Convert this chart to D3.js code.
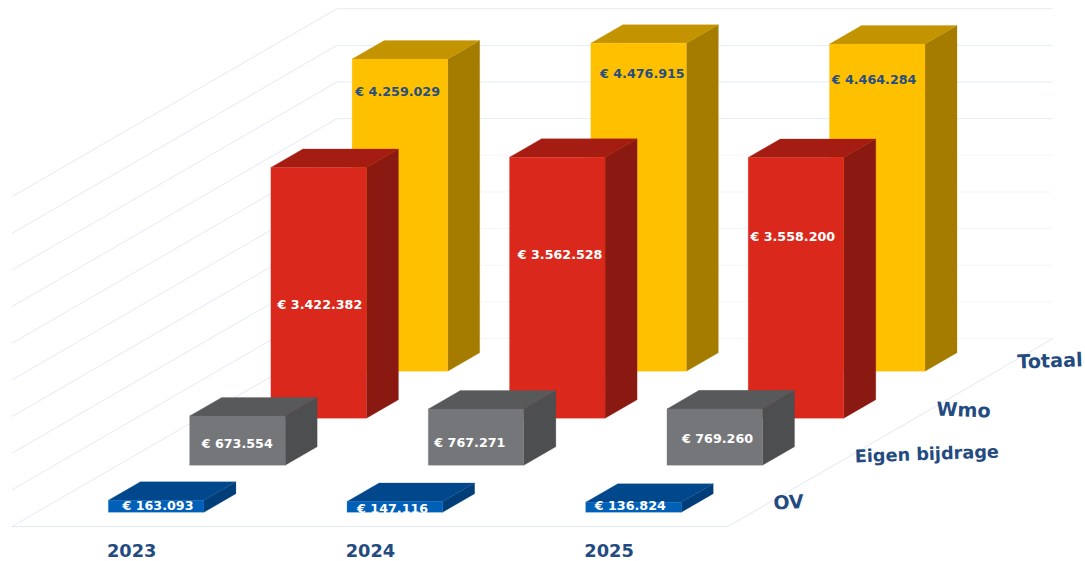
<!DOCTYPE html>
<html><head><meta charset="utf-8">
<script src="https://cdnjs.cloudflare.com/ajax/libs/d3/7.8.5/d3.min.js"></script>
<style>html,body{margin:0;padding:0;background:#fff;overflow:hidden}svg{display:block}text{font-family:"DejaVu Sans",sans-serif;font-weight:700}</style>
</head><body><svg id="c" width="1085" height="561"></svg>
<script>
const years = ["2023","2024","2025"];
const seriesNames = ["OV","Eigen bijdrage","Wmo","Totaal"];
const ov = [163093,147116,136824];
const eigenBijdrage = [673554,767271,769260];
const wmo = [3422382,3562528,3558200];
const totaal = [4259029,4476915,4464284];
const valuesBySeries = [ov,eigenBijdrage,wmo,totaal];
const yTicks = d3.range(0,4500001,500000);
const fills = [
 {front:"#0060B8",top:"#00478C",side:"#003E7A",text:"#fff"},
 {front:"#75767A",top:"#58595B",side:"#4D4E50",text:"#fff"},
 {front:"#DA291C",top:"#A51C12",side:"#8A1911",text:"#fff"},
 {front:"#FFC000",top:"#C49400",side:"#A67C00",text:"#264E80"}
];
// hand placement of the value labels relative to the bar's front-face centre [dx, dy from top]
const labelNudge = [
 [[2,5],[-2,7],[-3,3]],
 [[0,28],[-6,33],[3,30]],
 [[1.5,137],[3,97],[-3,79]],
 [[-2,32],[4,30],[-3,35]]
];
const originX=12, originY=526.5, floorW=716, depthX=325, depthY=188;
const svg=d3.select("#c");
const x=d3.scaleBand().domain(years).range([0,floorW]).paddingInner(0.598).paddingOuter(0.299);
const z=d3.scaleBand().domain(seriesNames).range([0,1]).paddingInner(0.606).paddingOuter(0.303);
const y=d3.scaleLinear().domain([0,4500000]).range([0,329.8]);
const P=(a,b,c)=>[originX+a+depthX*c, originY-b-depthY*c];
const line=d3.line();
const grid=svg.append("g").attr("fill","none");
yTicks.forEach(t=>{
  const h=y(t);
  grid.append("path").attr("d",line([P(0,h,0),P(0,h,1)])).attr("stroke","#E3EAF7").attr("stroke-width",1);
  grid.append("path").attr("d",line([P(0,h,1),P(floorW,h,1)])).attr("stroke",t>=3000000?"#E6EDF7":"#F4F6FB").attr("stroke-width",1);
});
grid.append("path").attr("d",line([P(0,0,0),P(floorW,0,0),P(floorW,0,1)])).attr("stroke","#E1E9F6");

const bars=svg.append("g");
for(let s=seriesNames.length-1;s>=0;s--){
  const name=seriesNames[s], col=fills[s];
  const z0=z(name), z1=z0+z.bandwidth();
  years.forEach((yr,i)=>{
    const x0=x(yr)+0.4, x1=x0+x.bandwidth()-0.4, h=y(valuesBySeries[s][i]);
    const g=bars.append("g").attr("stroke-width",0.25).attr("stroke-linejoin","round");
    const face=(pts,c)=>g.append("path").attr("d",line(pts)+"Z").attr("fill",c).attr("stroke",c);
    face([P(x1,0,z0),P(x1,0,z1),P(x1,h,z1),P(x1,h,z0)],col.side);
    face([P(x0,h,z0),P(x1,h,z0),P(x1,h,z1),P(x0,h,z1)],col.top);
    face([P(x0,0,z0),P(x1,0,z0),P(x1,h,z0),P(x0,h,z0)],col.front);
  });
}
const fmt=v=>"€ "+d3.format(",")(v).replace(/,/g,".");
const labels=svg.append("g");
seriesNames.forEach((name,s)=>{
  years.forEach((yr,i)=>{
    const v=valuesBySeries[s][i], h=y(v);
    const c=P(x(yr)+x.bandwidth()/2,h,z(name));
    const n=labelNudge[s][i];
    labels.append("text").attr("x",c[0]+n[0]).attr("y",c[1]+n[1]+4.5)
      .attr("text-anchor","middle").attr("font-size",12.7).attr("fill",fills[s].text).text(fmt(v));
  });
});
const axisColor="#234B80";
years.forEach(yr=>{
  const p=P(x(yr),0,z(seriesNames[0]));
  svg.append("text").attr("x",p[0]-1).attr("y",originY+30).attr("font-size",17.8).attr("fill",axisColor).text(yr);
});
const seriesTilt=[-3,-2,2,-2];
const seriesFont=[19,17.7,19.2,19.2];
seriesNames.forEach((name,s)=>{
  const p=P(floorW,0,z(name)+z.bandwidth()/2);
  const tx=p[0]+5, ty=p[1]+6.5;
  svg.append("text").attr("transform",`translate(${tx},${ty}) rotate(${seriesTilt[s]})`)
    .attr("font-size",seriesFont[s]).attr("fill",axisColor).text(name);
});
</script></body></html>
